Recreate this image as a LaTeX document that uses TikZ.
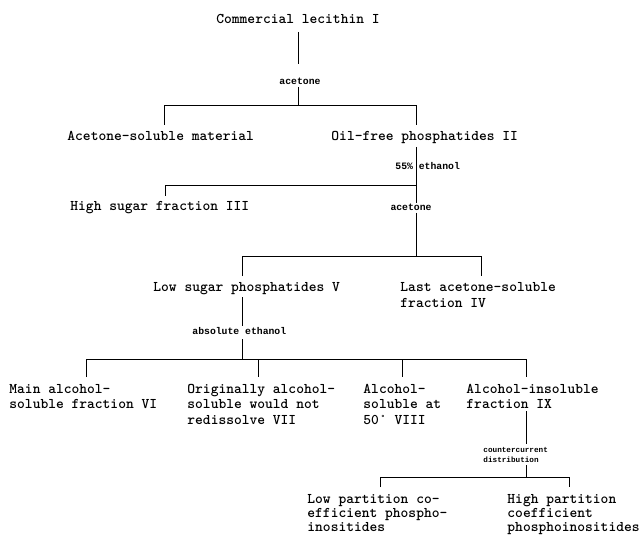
\documentclass[tikz,border=0pt]{standalone}
\usepackage{fontspec}
\newfontfamily\labfont{Liberation Mono}
\begin{document}
\begin{tikzpicture}[x=1bp,y=-1bp,line width=0.9bp,
  txt/.style={font=\ttfamily\fontseries{b}\fontsize{14.86}{15.5}\selectfont,inner sep=0pt,anchor=base west,align=left},
  txtb/.style={txt,font=\ttfamily\fontseries{b}\fontsize{14.86}{14}\selectfont},
  txtc/.style={txt,font=\ttfamily\fontseries{b}\fontsize{14.86}{16}\selectfont},
  lab/.style={font=\labfont\bfseries\fontsize{9.8}{10}\selectfont,inner sep=0pt,anchor=base west},
  labs/.style={font=\labfont\bfseries\fontsize{7.7}{10}\selectfont,inner sep=0pt,anchor=base west,align=left}]
\useasboundingbox (0,0) rectangle (642,536);
% level 0
\node[txt,anchor=base] (n1) at (298,24) {Commercial lecithin I};
\coordinate (a1) at (298,32); \coordinate (a2) at (298,64);
\node[lab,anchor=base] (l1) at (300,84.5) {acetone};
\coordinate (a3) at (298,87); \coordinate (b1c) at (298,105);
\coordinate (b1l) at (164,105); \coordinate (b1r) at (416,105);
\coordinate (d1l) at (164,125); \coordinate (d1r) at (416,125);
\draw (a1) -- (a2);
\draw (a3) -- (b1c);
\draw (d1l) -- (b1l) -- (b1r) -- (d1r);
% level 1
\node[txt] (n2) at (67,141) {Acetone-soluble material};
\node[txt] (n3) at (331,141) {Oil-free phosphatides II};
\coordinate (e1) at (416,147); \coordinate (e2) at (416,203);
\node[lab] (l2) at (395,169.5) {55\% ethanol};
\coordinate (b2l) at (165,185); \coordinate (b2r) at (416,185);
\coordinate (d2l) at (165,196);
\draw (e1) -- (e2);
\draw (d2l) -- (b2l) -- (b2r);
\node[txt] (n4) at (70,211) {High sugar fraction III};
\node[lab,anchor=base] (l3) at (411,210.5) {acetone};
\coordinate (e3) at (416,213); \coordinate (b3c) at (416,256);
\coordinate (b3l) at (242,256); \coordinate (b3r) at (481,256);
\coordinate (d3l) at (242,276); \coordinate (d3r) at (481,276);
\draw (e3) -- (b3c);
\draw (d3l) -- (b3l) -- (b3r) -- (d3r);
% level 2
\node[txt] (n5) at (153,291) {Low sugar phosphatides V};
\node[txtc] (n6) at (400,307) {Last acetone-soluble\\fraction IV};
\coordinate (f1) at (242,297); \coordinate (f2) at (242,326);
\node[lab] (l4) at (192,334.5) {absolute ethanol};
\coordinate (f3) at (242,339); \coordinate (b4c) at (242,359);
\draw (f1) -- (f2);
\draw (f3) -- (b4c);
\coordinate (b4l) at (86,359); \coordinate (b4r) at (526,359);
\coordinate (b4m1) at (258,359); \coordinate (b4m2) at (402,359);
\coordinate (d4a) at (86,377); \coordinate (d4b) at (258,377);
\coordinate (d4c) at (402,377); \coordinate (d4d) at (526,377);
\draw (d4a) -- (b4l) -- (b4r) -- (d4d);
\draw (b4m1) -- (d4b);
\draw (b4m2) -- (d4c);
% level 3
\node[txt] (n7) at (9,408.5) {Main alcohol-\\soluble fraction VI};
\node[txt] (n8) at (187,424) {Originally alcohol-\\soluble would not\\redissolve VII};
\node[txt] (n9) at (363,424) {Alcohol-\\soluble at\\50° VIII};
\node[txt] (n10) at (466,408.5) {Alcohol-insoluble\\fraction IX};
\coordinate (g1) at (526,411); \coordinate (g2) at (526,444);
\node[labs] (l5) at (483,462.5) {countercurrent\\distribution};
\coordinate (g3) at (526,465); \coordinate (b5c) at (526,477);
\draw (g1) -- (g2);
\draw (g3) -- (b5c);
\coordinate (b5l) at (380,477); \coordinate (b5r) at (569,477);
\coordinate (d5l) at (380,487); \coordinate (d5r) at (569,487);
\draw (d5l) -- (b5l) -- (b5r) -- (d5r);
% level 4
\node[txtb] (n11) at (307,531) {Low partition co-\\efficient phospho-\\inositides};
\node[txtb] (n12) at (507,531) {High partition\\coefficient\\phosphoinositides};
\end{tikzpicture}
\end{document}
